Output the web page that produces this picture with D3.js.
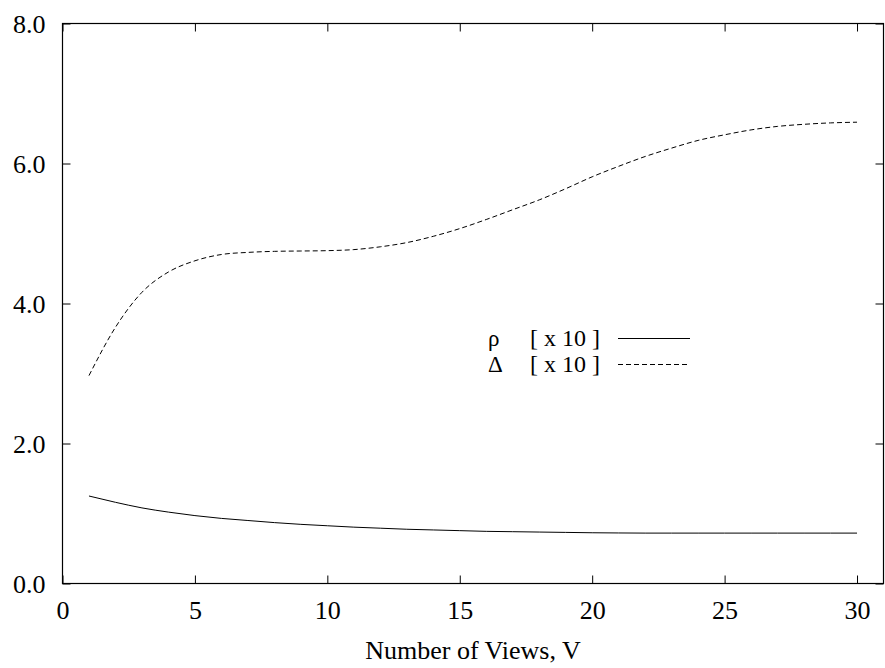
<!DOCTYPE html>
<html>
<head>
<meta charset="utf-8">
<script src="https://cdn.jsdelivr.net/npm/d3@7"></script>
<style>
  body { margin: 0; background: #fff; }
</style>
</head>
<body>
<div class="chart"></div>
<script>
// values (both series are "x 10")
var views = [1, 2, 3, 4, 5, 6, 7, 8, 9, 10, 11, 12, 13, 14, 15,
             16, 17, 18, 19, 20, 21, 22, 23, 24, 25, 26, 27, 28, 29, 30];
var rhoVals = [1.25, 1.16, 1.08, 1.02, 0.97, 0.93, 0.90, 0.87, 0.845, 0.825,
               0.805, 0.79, 0.775, 0.765, 0.755, 0.745, 0.74, 0.735, 0.73, 0.725,
               0.722, 0.72, 0.72, 0.72, 0.72, 0.72, 0.72, 0.72, 0.72, 0.72];
var deltaVals = [2.97, 3.66, 4.16, 4.45, 4.61, 4.70, 4.73, 4.745, 4.75, 4.755,
                 4.77, 4.81, 4.87, 4.96, 5.07, 5.20, 5.34, 5.48, 5.64, 5.81,
                 5.96, 6.10, 6.22, 6.33, 6.41, 6.48, 6.53, 6.56, 6.58, 6.59];
var xTicks = [0, 5, 10, 15, 20, 25, 30];
var yTicks = [0, 2, 4, 6, 8];
var legendSymbols = ["\u03C1", "\u0394"];
var legendText = "[ x 10 ]";

var serif = "'Liberation Serif', 'Times New Roman', serif";

var svgWidth = 885;
var svgHeight = 668;
var margin = { top: 23.5, right: 1.5, bottom: 84.5, left: 62.5 };
var width = svgWidth - margin.left - margin.right;
var height = svgHeight - margin.top - margin.bottom;

var svg = d3.select(".chart")
  .append("svg")
  .attr("width", svgWidth)
  .attr("height", svgHeight);

var chart = svg.append("g")
  .attr("transform", "translate(" + margin.left + "," + margin.top + ")");

var xScale = d3.scaleLinear().domain([0, 31]).range([0, width]);
var yScale = d3.scaleLinear().domain([0, 8]).range([height, 0]);

// axes, ticks pointing inward, mirrored on top / right
var bottomAxis = d3.axisBottom(xScale).tickValues(xTicks).tickSize(-8).tickFormat(d3.format("d"));
var topAxis = d3.axisTop(xScale).tickValues(xTicks).tickSize(-8).tickFormat("");
var leftAxis = d3.axisLeft(yScale).tickValues(yTicks).tickSize(-8).tickPadding(17).tickFormat(d3.format(".1f"));
var rightAxis = d3.axisRight(yScale).tickValues(yTicks).tickSize(-8).tickFormat("");

var gx = chart.append("g").attr("transform", "translate(0," + height + ")").call(bottomAxis);
chart.append("g").call(topAxis);
var gy = chart.append("g").call(leftAxis);
chart.append("g").attr("transform", "translate(" + width + ",0)").call(rightAxis);

chart.selectAll(".domain").remove();
chart.selectAll(".tick line").attr("stroke", "#000").attr("stroke-width", 1);

gx.selectAll("text")
  .attr("y", 35)
  .attr("dy", null)
  .style("font-size", "26px")
  .style("font-family", serif)
  .style("fill", "#000");
gy.selectAll("text")
  .attr("dy", "0.34em")
  .style("font-size", "26px")
  .style("font-family", serif)
  .style("fill", "#000");

// frame
chart.append("rect")
  .attr("x", 0)
  .attr("y", 0)
  .attr("width", width)
  .attr("height", height)
  .attr("fill", "none")
  .attr("stroke", "#000")
  .attr("stroke-width", 1.2);

// series
var line = d3.line()
  .x(function(d) { return xScale(d[0]); })
  .y(function(d) { return yScale(d[1]); })
  .curve(d3.curveMonotoneX);

chart.append("path")
  .datum(d3.zip(views, rhoVals))
  .attr("d", line)
  .attr("fill", "none")
  .attr("stroke", "#000")
  .attr("stroke-width", 1);

chart.append("path")
  .datum(d3.zip(views, deltaVals))
  .attr("d", line)
  .attr("fill", "none")
  .attr("stroke", "#000")
  .attr("stroke-width", 1)
  .attr("stroke-dasharray", "5,3");

// x label
svg.append("text")
  .attr("x", margin.left + width / 2)
  .attr("y", 659)
  .attr("text-anchor", "middle")
  .style("font-size", "26px")
  .style("font-family", serif)
  .text("Number of Views, V");

// legend
var legendY = [338, 364];
var leg = svg.append("g");
legendSymbols.forEach(function(s, i) {
  leg.append("text")
    .attr("x", 488)
    .attr("y", legendY[i] + 8)
    .style("font-size", "23px")
    .style("font-family", serif)
    .text(s);
  leg.append("text")
    .attr("x", 600)
    .attr("y", legendY[i] + 8)
    .attr("text-anchor", "end")
    .style("font-size", "24px")
    .style("font-family", serif)
    .text(legendText);
  leg.append("line")
    .attr("x1", 618)
    .attr("x2", 690)
    .attr("y1", legendY[i] + 0.5)
    .attr("y2", legendY[i] + 0.5)
    .attr("stroke", "#000")
    .attr("stroke-width", 1)
    .attr("stroke-dasharray", i === 1 ? "5,3" : null);
});
</script>
</body>
</html>
